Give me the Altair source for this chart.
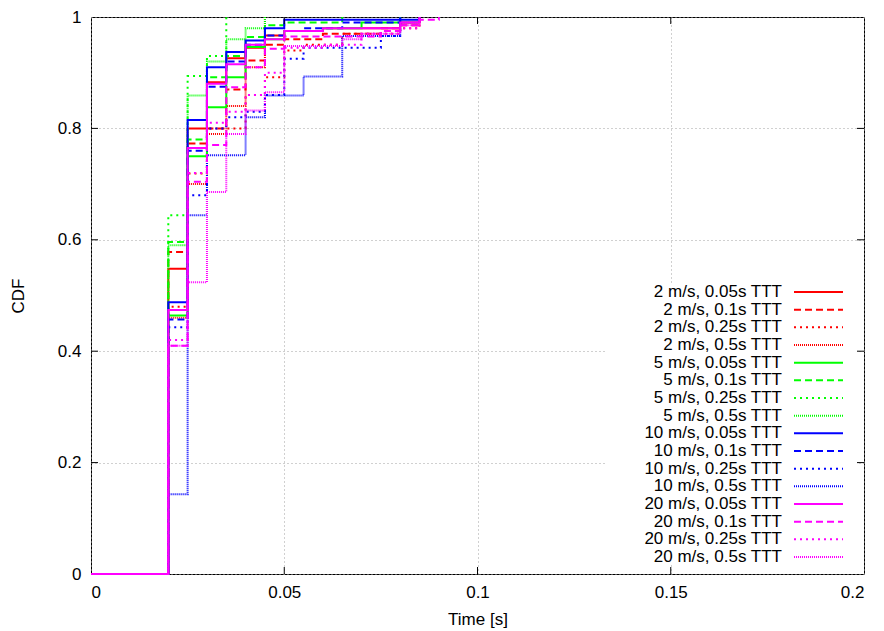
import altair as alt
import pandas as pd

FONT = "Liberation Sans"
SPEEDS = ["2 m/s", "5 m/s", "10 m/s", "20 m/s"]
TTTS = ["0.05s", "0.1s", "0.25s", "0.5s"]
COLORS = ["#ff0000", "#00ff00", "#0000ff", "#ff00ff"]
DASHES = [[1, 0], [7, 4], [2, 4], [1, 1]]
XTICKS = [0, 0.05, 0.1, 0.15, 0.2]
YTICKS = [0, 0.2, 0.4, 0.6, 0.8, 1]

# CDF steps: (time [s], cumulative fraction)
S2_005 = [(0.02, 0.548), (0.025, 0.80), (0.03, 0.883), (0.035, 0.926), (0.04, 0.945),
          (0.045, 0.967), (0.05, 0.975), (0.06, 0.98), (0.08, 0.99), (0.085, 1.0)]
S2_01 = [(0.02, 0.578), (0.025, 0.773), (0.03, 0.80), (0.035, 0.87), (0.04, 0.922),
         (0.045, 0.95), (0.05, 0.96), (0.06, 0.97), (0.075, 0.98), (0.08, 0.985), (0.085, 1.0)]
S2_025 = [(0.02, 0.48), (0.025, 0.719), (0.03, 0.80), (0.04, 0.86), (0.045, 0.892),
          (0.05, 0.94), (0.055, 0.95), (0.065, 0.97), (0.08, 0.98), (0.085, 1.0)]
S2_05 = [(0.02, 0.46), (0.025, 0.70), (0.03, 0.79), (0.035, 0.84), (0.04, 0.91), (0.045, 1.0)]

S5_005 = [(0.02, 0.464), (0.025, 0.75), (0.03, 0.838), (0.035, 0.892), (0.04, 0.946),
          (0.045, 0.96), (0.05, 0.975), (0.06, 0.98), (0.07, 0.99), (0.08, 1.0)]
S5_01 = [(0.02, 0.596), (0.025, 0.78), (0.03, 0.892), (0.035, 0.93), (0.04, 0.964),
         (0.045, 0.985), (0.05, 0.99), (0.065, 1.0)]
S5_025 = [(0.02, 0.644), (0.025, 0.894), (0.03, 0.93), (0.035, 1.0)]
S5_05 = [(0.02, 0.59), (0.025, 0.859), (0.03, 0.92), (0.035, 0.96), (0.04, 0.98), (0.045, 1.0)]

S10_005 = [(0.02, 0.488), (0.025, 0.815), (0.03, 0.91), (0.035, 0.937), (0.04, 0.958),
           (0.045, 0.98), (0.05, 0.995), (0.085, 1.0)]
S10_01 = [(0.02, 0.457), (0.025, 0.76), (0.03, 0.875), (0.035, 0.92), (0.04, 0.95),
          (0.045, 0.967), (0.05, 0.975), (0.055, 0.98), (0.065, 0.99), (0.08, 1.0)]
S10_025 = [(0.02, 0.443), (0.025, 0.68), (0.03, 0.80), (0.035, 0.82), (0.04, 0.83),
           (0.045, 0.86), (0.05, 0.925), (0.055, 0.945), (0.075, 0.966), (0.08, 1.0)]
S10_05 = [(0.02, 0.143), (0.025, 0.644), (0.03, 0.752), (0.04, 0.82), (0.045, 0.859),
          (0.055, 0.893), (0.065, 0.966), (0.08, 0.99), (0.085, 1.0)]

S20_005 = [(0.02, 0.474), (0.025, 0.765), (0.03, 0.88), (0.035, 0.915), (0.04, 0.95),
           (0.045, 0.96), (0.05, 0.975), (0.06, 0.98), (0.08, 0.99), (0.085, 1.0)]
S20_01 = [(0.02, 0.41), (0.025, 0.704), (0.03, 0.77), (0.035, 0.874), (0.04, 0.91),
          (0.045, 0.943), (0.05, 0.965), (0.075, 0.975), (0.08, 0.985), (0.085, 0.995), (0.09, 1.0)]
S20_025 = [(0.02, 0.42), (0.025, 0.72), (0.03, 0.81), (0.035, 0.83), (0.04, 0.86),
           (0.045, 0.90), (0.05, 0.945), (0.06, 0.95), (0.07, 0.97), (0.08, 0.98), (0.085, 1.0)]
S20_05 = [(0.02, 0.41), (0.025, 0.524), (0.03, 0.686), (0.035, 0.79), (0.04, 0.832),
          (0.045, 0.865), (0.05, 0.948), (0.065, 0.96), (0.07, 0.97), (0.08, 0.985), (0.085, 1.0)]

SERIES = [
    ("2 m/s", "0.05s", S2_005), ("2 m/s", "0.1s", S2_01), ("2 m/s", "0.25s", S2_025), ("2 m/s", "0.5s", S2_05),
    ("5 m/s", "0.05s", S5_005), ("5 m/s", "0.1s", S5_01), ("5 m/s", "0.25s", S5_025), ("5 m/s", "0.5s", S5_05),
    ("10 m/s", "0.05s", S10_005), ("10 m/s", "0.1s", S10_01), ("10 m/s", "0.25s", S10_025), ("10 m/s", "0.5s", S10_05),
    ("20 m/s", "0.05s", S20_005), ("20 m/s", "0.1s", S20_01), ("20 m/s", "0.25s", S20_025), ("20 m/s", "0.5s", S20_05),
]

rows, leg = [], []
for sp, tt, pts in SERIES:
    label = f"{sp}, {tt} TTT"
    leg.append(dict(series=label, speed=sp, ttt=tt))
    rows.append(dict(series=label, speed=sp, ttt=tt, x=0.0, y=0.0, o=0))
    for i, (x, y) in enumerate(pts):
        rows.append(dict(series=label, speed=sp, ttt=tt, x=x, y=y, o=i + 1))
df = pd.DataFrame(rows)
leg_df = pd.DataFrame(leg)
LABELS = list(leg_df["series"])

W, H = 773, 557

xscale = alt.Scale(domain=[0, 0.2], nice=False, zero=False)
yscale = alt.Scale(domain=[0, 1], nice=False, zero=False)
xaxis = alt.Axis(values=XTICKS, format="~g", title="Time [s]")
yaxis = alt.Axis(values=YTICKS, format="~g", title="CDF")
color = alt.Color("speed:N", scale=alt.Scale(domain=SPEEDS, range=COLORS), legend=None)
dash = alt.StrokeDash("ttt:N", scale=alt.Scale(domain=TTTS, range=DASHES), legend=None)

lines = alt.Chart(df).mark_line(interpolate="step-after", strokeWidth=2).encode(
    x=alt.X("x:Q", scale=xscale, axis=xaxis),
    y=alt.Y("y:Q", scale=yscale, axis=yaxis),
    color=color, strokeDash=dash,
    detail="series:N", order="o:Q",
)

xt = pd.DataFrame({"x": XTICKS[1:-1]})
yt = pd.DataFrame({"y": YTICKS[1:-1]})
tx = alt.X("x:Q", scale=xscale, axis=xaxis)
ty = alt.Y("y:Q", scale=yscale, axis=yaxis)
tick_b = alt.Chart(xt).mark_rule(color="black").encode(x=tx, y=alt.value(H), y2=alt.value(H - 7))
tick_t = alt.Chart(xt).mark_rule(color="black").encode(x=tx, y=alt.value(0), y2=alt.value(7))
tick_l = alt.Chart(yt).mark_rule(color="black").encode(y=ty, x=alt.value(0), x2=alt.value(7))
tick_r = alt.Chart(yt).mark_rule(color="black").encode(y=ty, x=alt.value(W - 7), x2=alt.value(W))

ly = alt.Y("series:N", sort=LABELS,
           scale=alt.Scale(type="point", domain=LABELS, range=[275, 540], padding=0), axis=None)
box = alt.Chart(pd.DataFrame({"a": [0]})).mark_rect(fill="white").encode(
    x=alt.value(514), x2=alt.value(766), y=alt.value(266), y2=alt.value(546))
lrules = alt.Chart(leg_df).mark_rule(strokeWidth=2).encode(
    x=alt.value(703), x2=alt.value(752), y=ly, color=color, strokeDash=dash)
ltext = alt.Chart(leg_df).mark_text(align="right", baseline="middle", font=FONT,
                                     fontSize=17, color="black").encode(
    x=alt.value(691), y=ly, text="series:N")

chart = alt.layer(
    alt.layer(lines, tick_b, tick_t, tick_l, tick_r),
    alt.layer(box, lrules, ltext),
).resolve_scale(y="independent").properties(
    width=W, height=H,
    padding={"left": 91, "top": 17, "right": 20, "bottom": 57},
    autosize=alt.AutoSizeParams(type="none"),
    background="white",
).configure_view(stroke="black", strokeWidth=1).configure_axis(
    domain=False, ticks=False, labelFont=FONT, labelFontSize=17, labelColor="black",
    titleFont=FONT, titleFontSize=17, titleFontWeight="normal", titleColor="black",
    grid=True, gridColor="#a0a0a0", gridDash=[1, 3], gridWidth=1, labelPadding=10,
).configure_axisX(titlePadding=11).configure_axisY(titlePadding=30)

chart.save("out.html", embed_options={"renderer": "svg", "actions": False})
